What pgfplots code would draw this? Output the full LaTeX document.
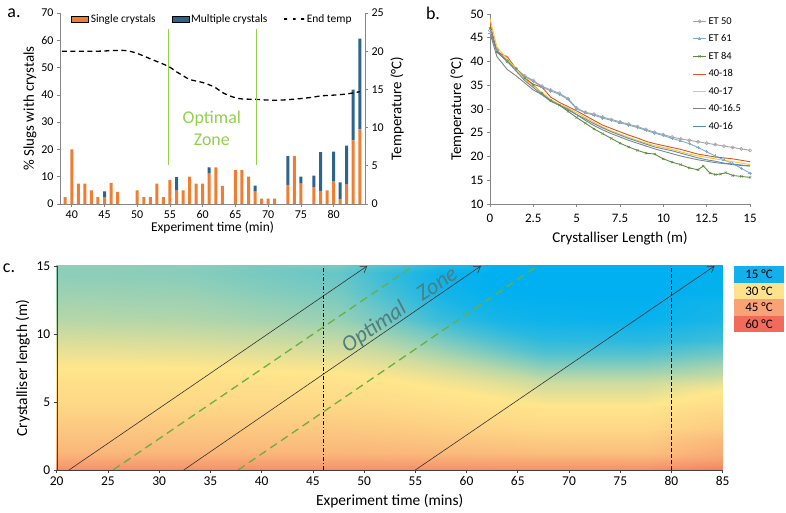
\documentclass[border=0pt]{standalone}
\usepackage{fontspec}
\setmainfont{Carlito}
\usepackage{pgfplots}
\pgfplotsset{compat=1.18}
\usetikzlibrary{arrows.meta}
\definecolor{barorange}{RGB}{240,125,50}
\definecolor{barblue}{RGB}{45,100,140}
\definecolor{zonegreen}{RGB}{146,208,80}
\definecolor{dashgreen}{RGB}{105,175,65}
\definecolor{axgray}{RGB}{134,134,134}
\definecolor{zonetext}{RGB}{80,125,125}
\definecolor{cET50}{RGB}{165,165,165}
\definecolor{cET61}{RGB}{130,170,205}
\definecolor{cET84}{RGB}{95,140,65}
\definecolor{c4018}{RGB}{226,80,30}
\definecolor{c4017}{RGB}{255,200,40}
\definecolor{c40165}{RGB}{130,130,130}
\definecolor{c4016}{RGB}{90,140,180}
\definecolor{l15}{RGB}{20,176,235}
\definecolor{l30}{RGB}{255,226,140}
\definecolor{l45}{RGB}{249,162,118}
\definecolor{l60}{RGB}{242,107,90}
\pgfplotsset{
  excel/.style={scale only axis, axis line style={axgray}, tick style={axgray, line width=0.6pt},
    tick align=outside, major tick length=3bp, /pgf/number format/assume math mode=true,
    tick label style={text=black}, label style={text=black}},
  colormap={tempmap}{rgb255=(0,176,240) rgb255=(255,230,140) rgb255=(248,165,115) rgb255=(240,100,80)},
}
\begin{document}
\begin{tikzpicture}[x=1bp,y=1bp]
\path[use as bounding box] (0,0) rectangle (786,513);
% ---------- panel a ----------
\begin{axis}[excel, at={(60bp,309bp)}, anchor=south west, width=305bp, height=191bp,
  xmin=38.2, xmax=84.8, ymin=0, ymax=70, ytick={0,10,...,70}, xtick={40,45,...,80},
  axis x line*=bottom, axis y line*=left,
  ybar stacked, bar width=3bp,
  tick label style={font=\fontsize{12}{14}\selectfont},
  xlabel style={font=\fontsize{13.5}{16}\selectfont, yshift=4bp},
  ylabel style={font=\fontsize{15}{17}\selectfont, yshift=-2bp},
  ylabel={\% Slugs with crystals}, xlabel={Experiment time (min)},
  legend style={at={(0.5,1.015)}, anchor=north, draw=none, fill=none, legend columns=3,
    font=\fontsize{11.5}{13}\selectfont, /tikz/every even column/.append style={column sep=14bp}},
]
\addplot[fill=barorange, draw=none, area legend] table[x=x,y=s] {
x s
39 2.5
40 20
41 7.5
42 7.5
43 5
44 2.5
45 2.3
46 7.7
47 4.4
48 0
49 0
50 5
51 2.5
52 2.5
53 7.5
54 2.5
55 8.8
56 4.9
57 5
58 10
59 7.5
60 7.5
61 11.1
62 13.4
63 6.6
64 0
65 12.4
66 12.4
67 10
68 4.5
69 2
70 2
71 2
72 0
73 7
74 17.5
75 7.5
76 0
77 6.2
78 4.8
79 5
80 8.4
81 1.9
82 7.1
83 23.3
84 27.3
};
\addlegendentry{Single crystals}
\addplot[fill=barblue, draw=none, area legend] table[x=x,y=m] {
x m
39 0
40 0
41 0
42 0
43 0
44 0
45 2.3
46 0
47 0
48 0
49 0
50 0
51 0
52 0
53 0
54 0
55 0
56 4.9
57 0
58 0
59 0
60 0
61 2.3
62 0
63 0
64 0
65 0
66 0
67 0
68 2.2
69 0
70 0
71 0
72 0
73 10.5
74 0
75 2.5
76 0
77 4.2
78 14.2
79 0
80 10.8
81 6.0
82 14.3
83 18.6
84 33.3
};
\addlegendentry{Multiple crystals}
\addlegendimage{line legend, black, line width=1.3pt, dash pattern=on 5bp off 3.5bp}
\addlegendentry{End temp}
\end{axis}
\begin{axis}[excel, at={(60bp,309bp)}, anchor=south west, width=305bp, height=191bp,
  xmin=38.2, xmax=84.8, ymin=0, ymax=25, ytick={0,5,...,25},
  axis y line*=right, axis x line=none,
  tick label style={font=\fontsize{12}{14}\selectfont},
  ylabel style={font=\fontsize{15}{17}\selectfont},
  ylabel={Temperature (°C)},
]
\addplot[black, line width=1.3pt, dash pattern=on 5bp off 3.5bp, smooth] coordinates {
(38.5,20) (40,20) (44,20) (48,20.1) (50,19.7) (52,19.0) (54,18.3) (55,17.9) (56,17.3) (57,16.8)
(58,16.3) (60,15.9) (61,15.6) (62,15.2) (63,14.6) (64,14.2) (65,13.9) (66,13.75) (68,13.7)
(70,13.6) (72,13.6) (75,13.8) (77,14.0) (78,14.15) (80,14.25) (82,14.4) (84,14.7)};
\addplot[zonegreen, line width=1.3pt] coordinates {(54.8,5.1) (54.8,22.9)};
\addplot[zonegreen, line width=1.3pt] coordinates {(68.2,5.1) (68.2,22.9)};
\node[text=zonegreen, font=\fontsize{18}{22}\selectfont, align=center] at (axis cs:61.4,9.95) {Optimal\\Zone};
\end{axis}
\node[font=\fontsize{18}{20}\selectfont] at (14,500) {a.};
% ---------- panel b ----------
\begin{axis}[excel, at={(490bp,309bp)}, anchor=south west, width=260bp, height=190bp,
  xmin=0, xmax=15, ymin=10, ymax=50, ytick={10,15,...,50},
  xtick={0,2.5,5,7.5,10,12.5,15}, xticklabels={0,2.5,5,7.5,10,12.5,15},
  axis x line*=bottom, axis y line*=left,
  tick label style={font=\fontsize{13}{15}\selectfont},
  xticklabel style={yshift=-4bp},
  label style={font=\fontsize{15}{17}\selectfont},
  xlabel={Crystalliser Length (m)}, ylabel={Temperature (°C)},
  xlabel style={yshift=-2bp},
  legend style={at={(0.985,1.005)}, anchor=north east, draw=none, fill=none,
    font=\fontsize{10.5}{12}\selectfont, row sep=5bp},
  legend cell align=left,
  legend image code/.code={\draw[mark repeat=2, mark phase=2, #1] plot coordinates {(0bp,0bp) (6.5bp,0bp) (13bp,0bp)};},
  every axis plot/.append style={line width=0.9pt},
]
\addplot[cET50, mark=o, mark size=1.6pt, mark options={line width=0.6pt}] coordinates {
(0,46.5) (0.4,42.5) (1,40) (1.5,38.5) (2,37) (2.5,36) (3,34.8) (3.5,34) (4,33.3) (4.5,32.2) (5,30.2)
(5.5,29.3) (6,28.9) (6.5,28.3) (7,27.8) (7.5,27.3) (8,26.8) (8.5,26.3) (9,25.7) (9.5,25.1) (10,24.6)
(10.5,24.1) (11,23.7) (11.5,23.4) (12,23.1) (12.5,22.8) (13,22.5) (13.5,22.2) (14,21.9) (14.5,21.6) (15,21.3)};
\addlegendentry{ET 50}
\addplot[cET61, mark=+, mark size=1.6pt, mark options={line width=0.5pt}] coordinates {
(0,46) (0.4,42.3) (1,40.2) (1.5,38.3) (2,36.8) (2.5,35.8) (3,34.6) (3.5,33.8) (4,33.1) (4.5,32.0) (5,30.0)
(5.5,29.2) (6,28.7) (6.5,28.1) (7,27.6) (7.5,27.1) (8,26.6) (8.5,26.1) (9,25.5) (9.5,24.9) (10,24.4)
(10.5,23.8) (11,23.3) (11.5,22.7) (12,21.9) (12.5,21.0) (13,20.1) (13.5,19.3) (14,18.5) (14.5,17.5) (15,16.5)};
\addlegendentry{ET 61}
\addplot[cET84, mark=x, mark size=1.6pt, mark options={line width=0.5pt}] coordinates {
(0,47) (0.4,42) (1,40) (1.5,38.5) (2,36.5) (2.5,35) (3,33.3) (3.5,31.8) (4,30.8) (4.5,29.5) (5,28.2)
(5.5,27) (6,25.8) (6.5,24.8) (7,23.8) (7.5,22.8) (8,22.0) (8.5,21.3) (9,20.7) (9.5,20.5) (10,19.5)
(10.5,18.8) (11,18.3) (11.5,17.6) (12,17.2) (12.3,18.0) (12.7,16.5) (13,16.2) (13.3,16.3) (13.6,16.6)
(14,16.0) (14.5,15.8) (15,15.6)};
\addlegendentry{ET 84}
\addplot[c4018] coordinates {
(0,48) (0.4,42) (1,41) (1.5,38.5) (2,36.5) (2.5,35.2) (3,34.6) (3.5,32.5) (4,31.4) (4.5,30.5) (5,29.6)
(5.5,28.6) (6,27.6) (6.5,26.6) (7,25.9) (7.5,25.2) (8,24.5) (8.5,23.9) (9,23.2) (9.5,22.7) (10,22.3)
(10.5,21.9) (11,21.5) (11.5,21.0) (12,20.5) (12.5,20.2) (13,19.9) (13.5,19.7) (14,19.5) (14.5,19.2) (15,18.9)};
\addlegendentry{40-18}
\addplot[c4017] coordinates {
(0,49) (0.4,43) (1,40.5) (1.5,38.5) (2,36.3) (2.5,34.8) (3,33.5) (3.5,32) (4,31) (4.5,30.2) (5,29.2)
(5.5,28.2) (6,27.2) (6.5,26.2) (7,25.4) (7.5,24.7) (8,24.0) (8.5,23.4) (9,22.8) (9.5,22.3) (10,21.9)
(10.5,21.5) (11,21.0) (11.5,20.5) (12,20.1) (12.5,19.8) (13,19.5) (13.5,19.2) (14,18.9) (14.5,18.6) (15,18.3)};
\addlegendentry{40-17}
\addplot[c40165] coordinates {
(0,46) (0.4,41) (1,38.3) (1.5,37) (2,35.5) (2.5,34) (3,33) (3.5,31.8) (4,30.8) (4.5,30) (5,28.8)
(5.5,27.6) (6,26.5) (6.5,25.6) (7,24.8) (7.5,24.1) (8,23.4) (8.5,22.8) (9,22.2) (9.5,21.6) (10,21.1)
(10.5,20.6) (11,20.1) (11.5,19.7) (12,19.3) (12.5,19.0) (13,18.7) (13.5,18.5) (14,18.3) (14.5,18.1) (15,18.0)};
\addlegendentry{40-16.5}
\addplot[c4016] coordinates {
(0,47) (0.4,42) (1,40) (1.5,38) (2,36) (2.5,34.5) (3,33) (3.5,31.6) (4,30.8) (4.5,29.8) (5,28.8)
(5.5,27.9) (6,26.9) (6.5,26.0) (7,25.2) (7.5,24.5) (8,23.8) (8.5,23.2) (9,22.6) (9.5,22.0) (10,21.6)
(10.5,21.2) (11,20.7) (11.5,20.2) (12,19.7) (12.5,19.3) (13,19.0) (13.5,18.6) (14,18.4) (14.5,18.2) (15,18.0)};
\addlegendentry{40-16}
\end{axis}
\node[font=\fontsize{18}{20}\selectfont] at (433,500) {b.};
% ---------- panel c ----------
\begin{axis}[excel, at={(56.7bp,43bp)}, anchor=south west, width=666bp, height=204bp,
  xmin=20, xmax=85, ymin=0, ymax=15, xtick={20,25,...,85}, ytick={0,5,10,15},
  axis x line*=bottom, axis y line*=left, axis on top,
  axis line style={black!75}, tick style={black!75},
  tick label style={font=\fontsize{13.5}{15}\selectfont},
  label style={font=\fontsize{15.5}{18}\selectfont},
  xlabel={Experiment time (mins)}, ylabel={Crystalliser length (m)},
  xlabel style={yshift=-2bp},
  colormap name=tempmap, point meta min=15, point meta max=60,
]
\addplot[matrix plot*, shader=interp, mesh/cols=8, point meta=explicit] table[x=x,y=y,meta=T] {
x y T
20 0 54
45 0 54
50 0 54
55 0 54
60 0 54
65 0 54
70 0 54
85 0 54
20 0.5 48
45 0.5 48
50 0.5 48
55 0.5 48
60 0.5 48
65 0.5 48
70 0.5 48
85 0.5 48
20 2 41
45 2 41
50 2 41
55 2 40.8
60 2 40.3
65 2 39.8
70 2 39.3
85 2 39
20 4 37
45 4 37
50 4 36.8
55 4 36.3
60 4 35.3
65 4 34.3
70 4 33.5
85 4 33.5
20 6 33
45 6 33
50 6 32.8
55 6 32.3
60 6 31.3
65 6 30.5
70 6 29.5
85 6 29.5
20 7 31.5
45 7 31.5
50 7 31
55 7 30.3
60 7 29.3
65 7 28.3
70 7 27
85 7 27
20 8 30
45 8 30
50 8 29.5
55 8 28.7
60 8 27.5
65 8 25.8
70 8 23.5
85 8 23.5
20 9 29
45 9 28.7
50 9 28
55 9 27
60 9 25
65 9 22.5
70 9 20
85 9 20
20 10 28
45 10 27.5
50 10 26.5
55 10 25
60 10 22.5
65 10 19.8
70 10 17.8
85 10 17.5
20 12 26
45 12 25.5
50 12 24
55 12 21.5
60 12 18.5
65 12 16.5
70 12 15.8
85 12 15.5
20 14 24.5
45 14 24
50 14 22
55 14 19
60 14 16.2
65 14 15.2
70 14 15
85 14 15
20 15 23.5
45 15 23
50 15 21
55 15 18
60 15 15.6
65 15 15
70 15 15
85 15 15
};
\addplot[black!80, line width=0.6pt, -{Straight Barb[length=6bp,width=8bp]}] coordinates {(21.2,0) (50.3,15)};
\addplot[black!80, line width=0.6pt, -{Straight Barb[length=6bp,width=8bp]}] coordinates {(32.4,0) (61.4,15)};
\addplot[black!80, line width=0.6pt, -{Straight Barb[length=6bp,width=8bp]}] coordinates {(55.0,0) (84.2,15)};
\addplot[dashgreen, line width=1.3pt, dash pattern=on 8bp off 5bp] coordinates {(25.5,0) (54.8,15)};
\addplot[dashgreen, line width=1.3pt, dash pattern=on 8bp off 5bp] coordinates {(37.7,0) (66.9,15)};
\addplot[black, line width=0.9pt, dash pattern=on 4bp off 2bp on 1bp off 2bp] coordinates {(46.0,0) (46.0,15)};
\addplot[black, line width=0.9pt, dash pattern=on 3.5bp off 2.5bp] coordinates {(80.0,0) (80.0,15)};
\node[text=zonetext, rotate=34.4, font=\fontsize{22.5}{26}\itshape, inner sep=0pt] at (axis cs:53.5,11.75) {Optimal\hspace{0.8em}Zone};
\end{axis}
\node[font=\fontsize{18}{20}\selectfont] at (9,245) {c.};
% colour legend
\foreach \c/\t [count=\i] in {l15/15,l30/30,l45/45,l60/60}{
  \fill[\c] (734,{513-266-(\i-1)*16.6}) rectangle (784,{513-266-\i*16.6});
  \node[font=\fontsize{13}{15}\selectfont] at (759,{513-266-(\i-0.5)*16.6}) {\t{} °C};
}
\end{tikzpicture}
\end{document}
